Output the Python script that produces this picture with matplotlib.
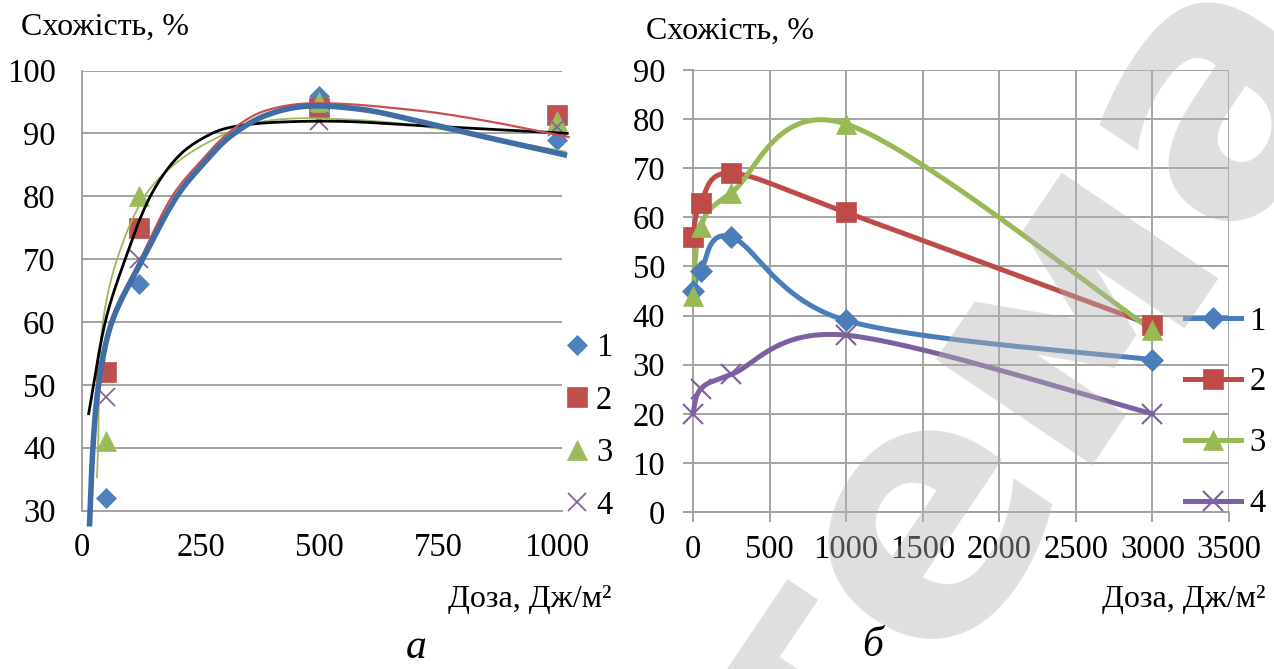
import numpy as np
import matplotlib
matplotlib.use("Agg")
import matplotlib.pyplot as plt
from matplotlib.lines import Line2D

# ---------------- data ----------------
# panel a: measured points
dose_a = [50, 120, 500, 1000]
a_s1 = [32, 66, 96, 89]
a_s2 = [52, 75, 94, 93]
a_s3 = [41, 80, 95, 92]
a_s4 = [48, 70, 92, 91]

# panel a: trend curves (dose, %)
tr1_x = [16, 23, 35, 63, 128, 200, 263, 312, 382, 470, 590, 699, 839, 1016]
tr1_y = [27.9, 40, 50, 60, 70, 80, 85.8, 89.5, 92.7, 94.3, 93.8, 92.1, 89.6, 86.6]
tr2_x = [19, 23, 35, 60, 123, 190, 253, 312, 382, 490, 699, 843, 1025]
tr2_y = [33, 40, 50, 60, 70, 80, 85.8, 90.3, 93.5, 94.8, 93.7, 92.1, 89.4]
tr3_x = [31.6, 34, 36.5, 44, 74, 132, 207, 312, 382, 490, 699, 1018]
tr3_y = [35.3, 40, 50, 60, 70, 80, 85.8, 90.3, 91.9, 92.4, 91.3, 87.1]
tr4_x = [14, 49, 91, 144, 205, 274, 330, 420, 550, 699, 1022]
tr4_y = [45.4, 60, 70, 80, 86.5, 90, 91.2, 91.8, 91.9, 91.3, 90.0]

# panel б
dose_b = [0, 50, 250, 1000, 3000]
b_s1 = [45, 49, 56, 39, 31]
b_s2 = [56, 63, 69, 61, 38]
b_s3 = [44, 58, 65, 79, 37]
b_s4 = [20, 25, 28, 36, 20]

labels = ["1", "2", "3", "4"]
a_yticks = [30, 40, 50, 60, 70, 80, 90, 100]
a_xticks = [0, 250, 500, 750, 1000]
b_yticks = list(range(0, 100, 10))
b_xticks = list(range(0, 4000, 500))

# ---------------- style ----------------
plt.rcParams['font.family'] = ['Liberation Serif', 'DejaVu Serif']
W, H = 1274, 669
fig = plt.figure(figsize=(W / 100, H / 100), dpi=100)
FS = 23.5      # tick labels / legend
FT = 23        # axis titles
GRID = '#a3a3a3'

mk_col = ['#4F81BD', '#C0504D', '#9BBB59', '#8064A2']
ln_col = ['#4A7EBB', '#BE4B48', '#98B954', '#7D60A0']
markers = ['D', 's', '^', 'x']
ms_a = [10, 14.5, 15, 13]
ms_b = [11, 15, 15, 14]


def px(x0, y0, x1, y1):
    return [x0 / W, 1 - y1 / H, (x1 - x0) / W, (y1 - y0) / H]


def excel_smooth(ax, xs, ys, n=40):
    """Excel-like smoothed line (Catmull-Rom Bezier in screen space)."""
    pts = ax.transData.transform(np.column_stack([xs, ys]))
    N = len(pts)
    out = []
    t = np.linspace(0, 1, n)[:, None]
    for i in range(N - 1):
        p0 = pts[max(i - 1, 0)]
        p1 = pts[i]
        p2 = pts[i + 1]
        p3 = pts[min(i + 2, N - 1)]
        c1 = p1 + (p2 - p0) / 6.0
        c2 = p2 - (p3 - p1) / 6.0
        seg = ((1 - t) ** 3 * p1 + 3 * (1 - t) ** 2 * t * c1
               + 3 * (1 - t) * t ** 2 * c2 + t ** 3 * p2)
        out.append(seg if i == 0 else seg[1:])
    return ax.transData.inverted().transform(np.vstack(out))


def chord_smooth(ax, xs, ys, n=40):
    """Smooth curve through read-off knots, chord-length tangents."""
    pts = ax.transData.transform(np.column_stack([xs, ys]))
    N = len(pts)
    d = np.linalg.norm(np.diff(pts, axis=0), axis=1)
    tang = np.zeros_like(pts)
    for i in range(N):
        if i == 0:
            tang[i] = (pts[1] - pts[0]) / d[0]
        elif i == N - 1:
            tang[i] = (pts[-1] - pts[-2]) / d[-1]
        else:
            tang[i] = (pts[i + 1] - pts[i - 1]) / (d[i - 1] + d[i])
    out = []
    t = np.linspace(0, 1, n)[:, None]
    for i in range(N - 1):
        p1, p2 = pts[i], pts[i + 1]
        c1 = p1 + tang[i] * d[i] / 3.0
        c2 = p2 - tang[i + 1] * d[i] / 3.0
        seg = ((1 - t) ** 3 * p1 + 3 * (1 - t) ** 2 * t * c1
               + 3 * (1 - t) * t ** 2 * c2 + t ** 3 * p2)
        out.append(seg if i == 0 else seg[1:])
    return ax.transData.inverted().transform(np.vstack(out))


# ---------------- panel a ----------------
ax1 = fig.add_axes(px(82, 70.5, 562, 510.5))
ax1.set_xlim(0, 1011)
ax1.set_ylim(30, 100)
ax1.set_xticks(a_xticks)
ax1.set_yticks(a_yticks)
for s in ['top', 'right']:
    ax1.spines[s].set_visible(False)
for s in ['left', 'bottom']:
    ax1.spines[s].set_color(GRID)
    ax1.spines[s].set_linewidth(1.4)
ax1.yaxis.grid(True, color=GRID, linewidth=1.4)
ax1.set_axisbelow(True)
ax1.tick_params(axis='both', length=0, labelsize=FS)
ax1.tick_params(axis='y', pad=19)
ax1.tick_params(axis='x', pad=16)

series_a = [a_s1, a_s2, a_s3, a_s4]
for i, ys in enumerate(series_a):
    ax1.plot(dose_a, ys, linestyle='none', marker=markers[i], ms=ms_a[i],
             color=mk_col[i], mec=mk_col[i], mew=1.3 if markers[i] == 'x' else 0.5,
             zorder=3, clip_on=False)

trends = [(tr1_x, tr1_y), (tr2_x, tr2_y), (tr3_x, tr3_y), (tr4_x, tr4_y)]
trend_col = ['#3F6DA6', '#C8504D', '#9BBB59', '#000000']
trend_lw = [4.0, 1.6, 1.3, 2.0]
for i in [2, 3, 1, 0]:
    tx, ty = trends[i]
    c = chord_smooth(ax1, tx, ty)
    ax1.plot(c[:, 0], c[:, 1], color=trend_col[i], lw=trend_lw[i], zorder=4,
             clip_on=False)

h1 = [Line2D([], [], linestyle='none', marker=markers[i], ms=ms_a[i],
             color=mk_col[i], mew=1.3 if markers[i] == 'x' else 0.5)
      for i in range(4)]
fig.legend(h1, labels, loc='upper left', bbox_to_anchor=(565 / W, 1 - 333 / H),
           frameon=False, fontsize=FS, handlelength=0.75, handletextpad=0.2,
           labelspacing=0.67, borderpad=0, borderaxespad=0)

fig.text(21 / W, 1 - 27 / H, 'Схожість, %', fontsize=FT, ha='left', va='center')
fig.text(611 / W, 1 - 599 / H, 'Доза, Дж/м²', fontsize=FT, ha='right', va='center')
fig.text(416 / W, 1 - 648 / H, 'а', fontsize=30, style='italic', ha='center', va='center')

# ---------------- panel б ----------------
ax2 = fig.add_axes(px(693, 70, 1229, 512))
ax2.set_xlim(0, 3500)
ax2.set_ylim(0, 90)
ax2.set_xticks(b_xticks)
ax2.set_yticks(b_yticks)
for s in ['top', 'right']:
    ax2.spines[s].set_visible(False)
for s in ['left', 'bottom']:
    ax2.spines[s].set_color(GRID)
    ax2.spines[s].set_linewidth(1.4)
ax2.grid(True, color=GRID, linewidth=1.4)
ax2.set_axisbelow(True)
ax2.tick_params(axis='both', length=7, width=1.4, color=GRID, labelsize=FS,
                direction='out')
ax2.tick_params(axis='y', pad=13)
ax2.tick_params(axis='x', pad=9)

series_b = [b_s1, b_s2, b_s3, b_s4]
for i, ys in enumerate(series_b):
    curve = excel_smooth(ax2, dose_b, ys)
    ax2.plot(curve[:, 0], curve[:, 1], color=ln_col[i], lw=3.6, zorder=3,
             solid_capstyle='round', clip_on=False)
    ax2.plot(dose_b, ys, linestyle='none', marker=markers[i], ms=ms_b[i],
             color=ln_col[i], mec=ln_col[i], mew=1.5 if markers[i] == 'x' else 0.5,
             zorder=4, clip_on=False)

h2 = [Line2D([], [], color=ln_col[i], lw=3.6, marker=markers[i], ms=ms_b[i],
             mew=1.5 if markers[i] == 'x' else 0.5)
      for i in range(4)]
fig.legend(h2, labels, loc='upper left', bbox_to_anchor=(1185 / W, 1 - 306 / H),
           frameon=False, fontsize=FS, handlelength=1.72, handletextpad=0.25,
           labelspacing=0.93, borderpad=0, borderaxespad=0)

fig.text(646 / W, 1 - 31 / H, 'Схожість, %', fontsize=FT, ha='left', va='center')
fig.text(1265 / W, 1 - 599 / H, 'Доза, Дж/м²', fontsize=FT, ha='right', va='center')
fig.text(873 / W, 1 - 646 / H, 'б', fontsize=30, style='italic', ha='center', va='center')

# watermark overlay
fig.text(1020 / W, 1 - 400 / H, 'тема', fontsize=250, fontweight='bold',
         family='DejaVu Sans', color='#b4b4b4', alpha=0.42, rotation=56,
         ha='center', va='center', rotation_mode='anchor', zorder=10)

fig.savefig('out.png', dpi=100)
